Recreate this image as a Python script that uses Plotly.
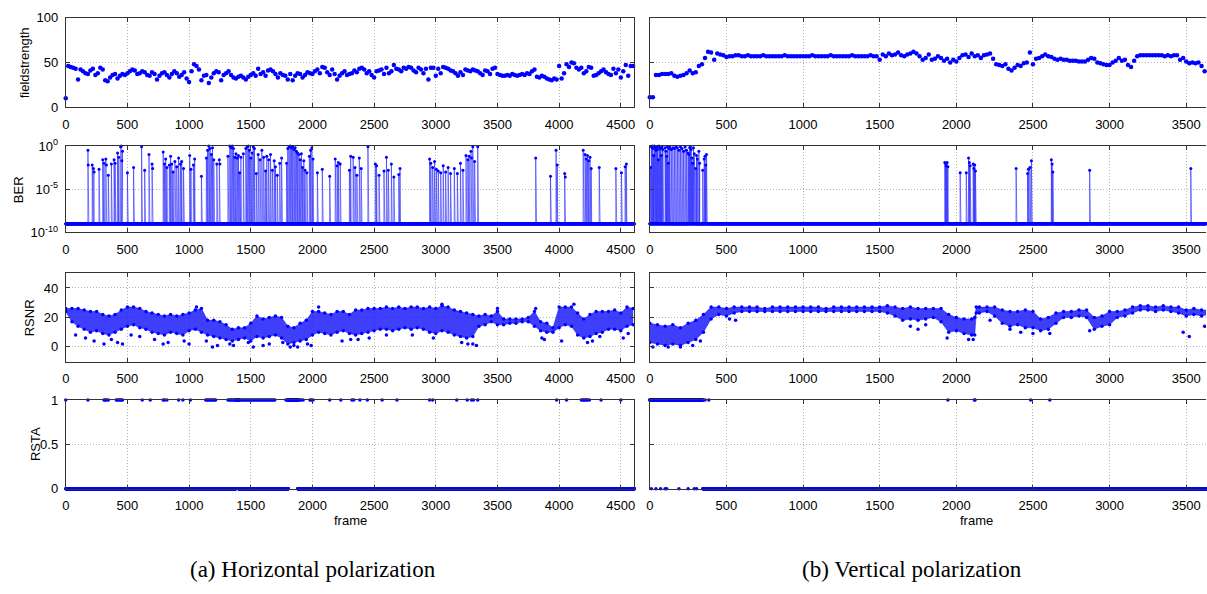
import numpy as np
import plotly.graph_objects as go

W, H = 1207, 594
BLUE = "#0000ff"

# ------------------------------------------------------------------ data
N_H = 4610          # last frame, horizontal polarization
N_V = 3629          # last frame shown, vertical polarization
FS_STEP = 20        # field strength sampled every 20 frames
BER_FLOOR = 1e-9    # value used for error-free frames (BER = 0)

fieldstrength_h = [
    10, 46, 45, 44, 43, 31, 42, 40, 38, 37, 41, 43, 36, 38, 44, 42, 30, 29, 33, 36, 37, 32, 35, 37, 36,
    38, 40, 42, 41, 37, 38, 40, 39, 36, 35, 39, 37, 31, 35, 38, 39, 36, 33, 37, 40, 38, 34, 36, 39, 32,
    28, 40, 48, 46, 42, 30, 35, 36, 27, 33, 38, 40, 39, 30, 36, 38, 40, 36, 33, 32, 34, 35, 33, 31, 34,
    36, 38, 35, 43, 37, 39, 35, 41, 42, 40, 37, 33, 38, 36, 35, 31, 37, 30, 35, 38, 37, 33, 36, 39, 38,
    37, 40, 42, 38, 45, 44, 39, 36, 42, 37, 31, 35, 38, 40, 36, 37, 38, 41, 39, 43, 44, 42, 38, 40, 36,
    33, 40, 41, 42, 37, 44, 38, 40, 47, 43, 42, 40, 44, 43, 45, 44, 41, 39, 44, 42, 38, 43, 31, 44, 44,
    35, 43, 38, 45, 44, 43, 41, 40, 38, 35, 39, 36, 42, 41, 40, 42, 41, 40, 38, 36, 41, 40, 37, 43, 44,
    37, 36, 35, 35, 36, 35, 37, 36, 35, 36, 37, 36, 38, 37, 40, 42, 34, 33, 35, 34, 32, 31, 30, 32, 31,
    46, 32, 38, 48, 45, 50, 49, 44, 42, 44, 38, 40, 45, 44, 35, 36, 38, 40, 42, 39, 37, 36, 43, 38, 42,
    33, 40, 47, 35, 46, 46,
]
fieldstrength_v = [
    11, 11, 36, 36, 37, 37, 37, 38, 35, 34, 35, 36, 38, 41, 38, 39, 46, 48, 55, 62, 61, 53, 60, 59, 58,
    56, 57, 57, 58, 58, 57, 57, 58, 57, 57, 57, 57, 58, 57, 57, 57, 57, 57, 57, 58, 57, 57, 57, 57, 57,
    57, 57, 57, 58, 57, 57, 57, 57, 57, 58, 57, 57, 57, 57, 57, 57, 58, 57, 57, 57, 57, 57, 58, 57, 57,
    53, 59, 57, 60, 58, 59, 61, 58, 57, 59, 60, 62, 60, 57, 53, 55, 59, 53, 54, 57, 55, 52, 54, 50, 53,
    51, 55, 58, 59, 56, 60, 57, 58, 55, 58, 59, 60, 54, 48, 47, 46, 48, 43, 41, 44, 47, 46, 49, 50, 61,
    48, 54, 55, 57, 59, 57, 56, 54, 53, 54, 53, 53, 52, 52, 52, 51, 51, 51, 53, 55, 54, 50, 49, 48, 47,
    47, 50, 52, 55, 52, 53, 47, 45, 52, 57, 58, 58, 58, 58, 58, 58, 58, 58, 57, 58, 57, 58, 58, 53, 55,
    51, 49, 50, 49, 50, 46, 40,
]

# BER events: (frame, log10(BER)); all other frames are error-free
ber_h_events = [
    (180, -0.5), (182, -2.2), (215, -2.2), (225, -2.6), (230, -3.0), (270, -2.7), (300, -1.6), (310, -2.0),
    (325, -1.5), (330, -2.2), (345, -3.4), (370, -2.1), (392, -1.6), (400, -2.0), (420, -0.8), (430, -1.3),
    (445, -0.1), (450, 0.0), (455, -1.7), (460, -0.6), (500, -3.1), (550, -2.5), (615, -0.1), (640, -2.8),
    (675, -1.0), (700, -2.1), (705, -2.6), (790, -0.7), (800, -2.1), (810, -1.5), (820, -2.5), (840, -2.2),
    (850, -1.2), (860, -2.1), (870, -3.0), (885, -1.8), (900, -2.4), (915, -1.4), (930, -2.1), (940, -1.8),
    (955, -2.6), (1005, -1.1), (1015, -2.7), (1035, -2.2), (1045, -1.5), (1100, -3.5), (1140, -1.4),
    (1150, -0.5), (1160, 0.0), (1170, -0.3), (1180, -1.0), (1190, -0.2), (1200, -1.6), (1225, -2.1),
    (1245, -1.6), (1250, -2.1), (1315, -1.2), (1330, 0.0), (1340, -0.2), (1350, 0.0), (1360, -0.3),
    (1370, -1.3), (1380, -0.9), (1390, -1.4), (1400, -1.1), (1410, -3.1), (1420, -1.3), (1440, -0.9),
    (1460, -0.3), (1470, -0.1), (1480, 0.0), (1490, -0.5), (1500, -1.4), (1510, -0.8), (1520, -0.1),
    (1530, -0.3), (1545, -3.2), (1560, -1.0), (1575, -1.6), (1590, -0.5), (1605, -1.3), (1620, -2.9),
    (1630, -1.2), (1645, -1.6), (1660, -1.0), (1675, -2.8), (1690, -1.7), (1700, -2.4), (1715, -3.4),
    (1735, -2.0), (1750, -1.4), (1790, -2.0), (1800, -0.3), (1810, -0.1), (1820, 0.0), (1830, -0.2),
    (1840, -0.1), (1850, -0.4), (1860, -0.2), (1870, -0.6), (1880, -0.8), (1890, -1.0), (1900, -1.6),
    (1910, -0.9), (1920, -2.5), (1930, -1.7), (1940, -2.8), (1955, -3.1), (1975, -1.2), (1985, -0.5),
    (1995, -0.2), (2005, -1.5), (2040, -3.1), (2080, -2.7), (2140, -3.5), (2185, -1.5), (2200, -2.3),
    (2210, -1.9), (2225, -2.1), (2300, -2.8), (2310, -1.2), (2330, -1.3), (2345, -2.5), (2360, -3.4),
    (2380, -1.4), (2395, -2.6), (2450, -0.1), (2510, -2.1), (2520, -2.3), (2540, -3.4), (2580, -2.9),
    (2600, -1.3), (2615, -2.8), (2640, -2.1), (2660, -3.6), (2700, -3.3), (2710, -2.6), (2950, -1.5),
    (2960, -2.0), (2975, -2.5), (2990, -1.8), (3005, -2.7), (3020, -2.9), (3040, -3.1), (3060, -2.3),
    (3080, -3.0), (3100, -2.5), (3120, -3.2), (3150, -2.6), (3175, -3.2), (3200, -2.0), (3220, -2.8),
    (3245, -1.1), (3260, -1.6), (3270, -1.2), (3285, -0.6), (3290, -1.4), (3300, -0.1), (3315, -1.8),
    (3340, -0.1), (3810, -1.4), (3930, -3.5), (3975, -0.5), (3985, -2.2), (4045, -3.2), (4050, -3.6),
    (4195, -0.5), (4210, -1.0), (4220, -1.5), (4230, -1.1), (4240, -1.7), (4250, -1.3), (4260, -2.6),
    (4325, -2.5), (4460, -2.6), (4505, -3.1), (4535, -2.4), (4545, -2.1),
]
ber_v_events = [
    (5, -2.5), (10, -0.1), (15, 0.0), (20, -0.3), (25, -1.1), (30, 0.0), (35, -0.2), (40, -0.5), (45, -0.1),
    (50, -0.4), (55, -1.6), (60, 0.0), (65, -0.2), (70, -0.3), (75, -1.1), (80, -0.1), (85, -0.4),
    (100, -0.2), (105, -0.6), (110, -1.2), (115, -0.1), (120, -2.0), (125, -0.3), (130, -0.1), (140, -0.4),
    (150, -0.2), (160, -0.3), (170, -0.1), (180, -0.2), (190, -0.5), (200, -0.1), (210, -0.3), (220, -0.6),
    (230, -0.1), (240, -0.5), (250, -0.8), (255, -1.0), (260, -0.2), (265, -0.1), (270, -0.4), (275, -1.4),
    (280, -2.0), (285, -0.2), (290, -0.9), (300, -2.6), (305, -1.1), (310, -1.5), (320, -0.6), (325, -2.0),
    (345, -2.8), (355, -1.5), (360, -1.2), (365, -2.2), (370, -1.0),
    (1925, -1.9), (1930, -2.0), (1935, -2.3), (1940, -1.9), (1945, -2.4), (2025, -3.1), (2065, -3.1),
    (2080, -1.4), (2085, -1.9), (2090, -2.3), (2110, -2.1), (2115, -2.6), (2120, -2.2), (2125, -2.9),
    (2390, -2.6), (2465, -3.2), (2470, -2.7), (2480, -2.5), (2490, -1.7), (2620, -1.6), (2625, -2.1),
    (2630, -3.0), (2870, -2.8), (3530, -2.6),
]

# RSNR: per-bin extent of the dense cloud (lower / upper) plus isolated outliers
rsnr_h_frames = list(range(0, 4601, 50))
rsnr_h_low = [24, 17, 14, 12, 10, 11, 9, 8, 10, 12, 14, 15, 13, 12, 10, 9, 8, 10, 9, 8,
              11, 12, 10, 8, 7, 6, 5, 4, 5, 6, 4, 7, 6, 7, 8, 6, 2, 3, 4, 5,
              8, 10, 9, 8, 10, 11, 9, 8, 9, 10, 11, 12, 12, 11, 12, 13, 12, 13, 12, 10,
              9, 11, 10, 8, 7, 6, 7, 14, 15, 17, 15, 15, 16, 16, 17, 17, 14, 11, 10, 10,
              13, 15, 14, 8, 6, 7, 9, 10, 12, 12, 11, 14, 15]
rsnr_h_high = [26, 26, 26, 25, 24, 24, 22, 21, 22, 25, 27, 27, 26, 24, 23, 22, 21, 22, 21, 22,
               23, 25, 26, 18, 18, 17, 15, 12, 13, 13, 16, 21, 19, 20, 21, 20, 14, 13, 16, 18,
               24, 24, 23, 22, 24, 24, 22, 25, 25, 26, 26, 26, 27, 26, 27, 26, 27, 27, 26, 27,
               26, 28, 27, 25, 24, 23, 22, 21, 22, 21, 24, 19, 19, 19, 19, 20, 24, 17, 16, 13,
               27, 27, 27, 23, 19, 22, 24, 24, 24, 25, 23, 27, 26]
rsnr_h_out_frames = [80, 160, 230, 310, 370, 420, 460, 530, 600, 720, 790, 830, 960, 1000, 1060, 1140,
                     1190, 1230, 1330, 1360, 1480, 1520, 1600, 1650, 1760, 1820, 1850, 1880, 1960, 1990,
                     2050, 2240, 2310, 2370, 2460, 2600, 2810, 2980, 3050, 3210, 3260, 3300, 3330, 3500,
                     3810, 3860, 3880, 4020, 4120, 4230, 4270, 4330, 4520, 4560]
rsnr_h_out_values = [8, 6, 4, 2, 5, 3, 2, 8, 7, 5, 2, 3, 4, 2, 27, 4,
                     0, 1, 2, 1, 3, 0, 1, 2, 3, 0, 1, 0, 2, 1,
                     27, 4, 5, 5, 6, 8, 8, 6, 29, 3, 2, 2, 1, 26,
                     26, 6, 5, 4, 29, 3, 4, 7, 6, 9]

rsnr_v_frames = [0, 50, 100, 150, 200, 250, 300, 350, 400, 450, 500, 550, 600, 650, 700, 750, 800, 850,
                 900, 950, 1000, 1050, 1100, 1150, 1200, 1250, 1300, 1350, 1400, 1450, 1500, 1550, 1600,
                 1650, 1700, 1750, 1800, 1850, 1900, 1950, 2000, 2050, 2100, 2120, 2130, 2150, 2200, 2250,
                 2300, 2350, 2400, 2450, 2500, 2550, 2600, 2650, 2700, 2750, 2800, 2850, 2900, 2950, 3000,
                 3050, 3100, 3150, 3200, 3250, 3300, 3350, 3400, 3450, 3500, 3550, 3600, 3650]
rsnr_v_low = [3, 2, 1, 2, 1, 3, 5, 10, 19, 22, 21, 23, 24, 24, 24, 24, 24, 24,
              24, 24, 24, 24, 24, 24, 24, 24, 24, 24, 24, 24, 24, 23, 21,
              18, 19, 18, 19, 20, 17, 10, 11, 9, 8, 8, 23, 23, 24, 21,
              16, 14, 15, 13, 13, 11, 12, 16, 20, 20, 21, 20, 12, 14, 15,
              20, 21, 23, 25, 25, 24, 25, 24, 23, 21, 22, 21, 22]
rsnr_v_high = [16, 15, 14, 15, 13, 16, 18, 22, 27, 27, 26, 27, 27, 27, 27, 26, 27, 27,
               27, 27, 27, 27, 27, 26, 27, 27, 27, 27, 27, 27, 27, 28, 27,
               26, 27, 26, 26, 26, 26, 22, 20, 19, 19, 20, 27, 27, 27, 27,
               25, 24, 24, 25, 24, 19, 20, 23, 24, 24, 25, 25, 20, 21, 24,
               24, 25, 27, 28, 28, 27, 28, 27, 27, 25, 26, 25, 25]
rsnr_v_out_frames = [20, 120, 200, 280, 330, 520, 560, 1700, 1750, 1800, 1940, 2080, 2110, 2220, 2350,
                     2420, 2500, 2610, 2870, 3480, 3520, 3620]
rsnr_v_out_values = [0, 0, 0, 1, 4, 19, 18, 14, 12, 15, 6, 5, 5, 18, 12,
                     10, 9, 9, 11, 10, 7, 14]

# RSTA (0/1): frames with RSTA = 1 (isolated) and runs of RSTA = 1
rsta_h_on = [0, 180, 310, 320, 330, 345, 410, 420, 430, 440, 450, 460, 620, 685, 790, 800, 820, 915, 950,
             1010, 1135, 1145, 1155, 1165, 1175, 1185, 1195, 1205, 1215, 1315, 1325, 1335, 1345, 1355,
             1365, 1375, 1405, 1415, 1425, 1435, 1445, 1455, 1465, 1475, 1485, 1495, 1505, 1515, 1525,
             1535, 1545, 1555, 1565, 1575, 1585, 1595, 1605, 1615, 1625, 1635, 1645, 1655, 1665, 1675,
             1685, 1695, 1785, 1795, 1890, 1900, 1910, 1925, 1980, 1990, 2005, 2140, 2230, 2320, 2335,
             2385, 2445, 2565, 2685, 2950, 2975, 3170, 3255, 3290, 3305, 3340, 3980, 4060, 4180, 4190,
             4200, 4210, 4220, 4230, 4245, 4340, 4500]
rsta_h_runs = [(1380, 1400), (1805, 1880)]
rsta_v_on = [360, 385, 1945, 2118, 2122, 2485, 2610]
rsta_v_runs = [(0, 345)]
rsta_v_off_in_runs = [10, 40, 70, 100, 110, 190, 250, 290, 305]

# ------------------------------------------------------------------ series built from the data
def ber_series(events, n):
    b = np.full(n + 1, BER_FLOOR)
    for f, e in events:
        b[f] = 10.0 ** e
    return b


def rsta_series(on, runs, off, n):
    r = np.zeros(n + 1)
    for a, b in runs:
        r[a:b + 1] = 1
    r[on] = 1
    r[off] = 0
    return r


frames_h = np.arange(N_H + 1)
frames_v = np.arange(N_V + 1)
ber_h = ber_series(ber_h_events, N_H)
ber_v = ber_series(ber_v_events, N_V)
rsta_h = rsta_series(rsta_h_on, rsta_h_runs, [], N_H)
rsta_v = rsta_series(rsta_v_on, rsta_v_runs, rsta_v_off_in_runs, N_V)

# ------------------------------------------------------------------ layout geometry (pixels)
X_DOM = {"h": (62, 633), "v": (648.5, W)}
X_RANGE = {"h": N_H, "v": N_V}
Y_DOM = [(9, 101), (141, 230), (272, 363), (402.5, 494)]


def px_x(p):
    return p / W


def px_y(p):
    return 1 - p / H


fig = go.Figure()

AXFONT = dict(family="Liberation Sans, Arial, sans-serif", size=13, color="black")
common = dict(showline=True, linecolor="#333", linewidth=1, ticks="inside", ticklen=4, tickcolor="#333",
              showgrid=True, gridcolor="#b4b4b4", griddash="1px,2px", gridwidth=1, zeroline=False,
              tickfont=AXFONT)

layout = {}
for col, pol in enumerate(["h", "v"]):
    for row in range(4):
        i = col * 4 + row + 1
        xs = "x" if i == 1 else f"x{i}"
        ys = "y" if i == 1 else f"y{i}"
        x0, x1 = X_DOM[pol]
        y0, y1 = Y_DOM[row]
        xt = list(range(0, 4501, 500)) if pol == "h" else list(range(0, 3501, 500))
        xa = dict(common, domain=[px_x(x0), px_x(x1)], range=[0, X_RANGE[pol]], anchor=ys,
                  tickvals=xt, ticktext=[str(v) for v in xt], mirror="ticks", ticklabelstandoff=5)
        ya = dict(common, domain=[px_y(y1), px_y(y0)], anchor=xs,
                  mirror="ticks" if pol == "h" else False, ticklabelstandoff=4,
                  showticklabels=(pol == "h"))
        if row == 0:
            ya.update(range=[0, 100], tickvals=[0, 50, 100])
        elif row == 1:
            ya.update(type="log", range=[-10, 0], tickvals=[1e-10, 1e-5, 1],
                      ticktext=["10<sup>-10</sup>", "10<sup>-5</sup>", "10<sup>0</sup>"])
        elif row == 2:
            ya.update(range=[-10, 50], tickvals=[0, 20, 40])
        else:
            ya.update(range=[0, 1], tickvals=[0, 0.5, 1], ticktext=["0", "0.5", "1"])
        layout["xaxis" if i == 1 else f"xaxis{i}"] = xa
        layout["yaxis" if i == 1 else f"yaxis{i}"] = ya

# ------------------------------------------------------------------ traces
def axes(i):
    return ("x" if i == 1 else f"x{i}", "y" if i == 1 else f"y{i}")


panels = [
    ("h", 1, fieldstrength_h, ber_h, frames_h, rsnr_h_frames, rsnr_h_low, rsnr_h_high,
     rsnr_h_out_frames, rsnr_h_out_values, rsta_h),
    ("v", 5, fieldstrength_v, ber_v, frames_v, rsnr_v_frames, rsnr_v_low, rsnr_v_high,
     rsnr_v_out_frames, rsnr_v_out_values, rsta_v),
]
for pol, base, fs, ber, frames, rf, rlo, rhi, rof, rov, rsta in panels:
    # field strength
    xa, ya = axes(base)
    fig.add_trace(go.Scatter(x=np.arange(len(fs)) * FS_STEP, y=fs, mode="markers", xaxis=xa, yaxis=ya,
                             marker=dict(color=BLUE, size=4.5), cliponaxis=False, showlegend=False))
    # BER
    xa, ya = axes(base + 1)
    fig.add_trace(go.Scatter(x=frames, y=ber, mode="lines+markers", xaxis=xa, yaxis=ya,
                             line=dict(color="rgba(40,40,255,0.6)", width=1),
                             marker=dict(color=BLUE, size=3), cliponaxis=False, showlegend=False))
    # RSNR: cloud band (filled between upper and lower extent) + edge points + outliers
    xa, ya = axes(base + 2)
    fig.add_trace(go.Scatter(x=rf, y=rhi, mode="lines+markers", xaxis=xa, yaxis=ya,
                             line=dict(color="rgba(20,20,250,0.5)", width=1),
                             marker=dict(color=BLUE, size=3.5), showlegend=False))
    fig.add_trace(go.Scatter(x=rf, y=rlo, mode="lines+markers", xaxis=xa, yaxis=ya, fill="tonexty",
                             fillcolor="rgba(20,20,250,0.82)",
                             line=dict(color="rgba(20,20,250,0.5)", width=1),
                             marker=dict(color=BLUE, size=3.5), showlegend=False))
    fig.add_trace(go.Scatter(x=rof, y=rov, mode="markers", xaxis=xa, yaxis=ya,
                             marker=dict(color=BLUE, size=3.5), showlegend=False))
    # RSTA
    xa, ya = axes(base + 3)
    fig.add_trace(go.Scatter(x=frames, y=rsta, mode="markers", xaxis=xa, yaxis=ya,
                             marker=dict(color=BLUE, size=3.5), cliponaxis=False, showlegend=False))

# ------------------------------------------------------------------ labels
TITLEFONT = dict(family="Liberation Sans, Arial, sans-serif", size=13, color="black")
ann = []
for text, xp, yp in [("fieldstrength", 21, 55), ("BER", 14, 185.5), ("RSNR", 26, 317.5), ("RSTA", 31, 448)]:
    ann.append(dict(text=text, x=px_x(xp), y=px_y(yp), xref="paper", yref="paper", textangle=-90,
                    showarrow=False, font=TITLEFONT, xanchor="center", yanchor="middle"))
for xp in (347.5, 977):
    ann.append(dict(text="frame", x=px_x(xp), y=px_y(527), xref="paper", yref="paper", showarrow=False,
                    font=TITLEFONT, xanchor="center", yanchor="middle"))
CAPFONT = dict(family="Liberation Serif, DejaVu Serif, serif", size=23, color="black")
ann.append(dict(text="(a) Horizontal polarization", x=px_x(310), y=px_y(577), xref="paper", yref="paper",
                showarrow=False, font=CAPFONT, xanchor="center", yanchor="middle"))
ann.append(dict(text="(b) Vertical polarization", x=px_x(912), y=px_y(577), xref="paper", yref="paper",
                showarrow=False, font=CAPFONT, xanchor="center", yanchor="middle"))

fig.update_layout(width=W, height=H, margin=dict(l=0, r=0, t=0, b=0), autosize=False,
                  plot_bgcolor="white", paper_bgcolor="white", showlegend=False, annotations=ann,
                  **layout)
fig.write_html("out.html")
